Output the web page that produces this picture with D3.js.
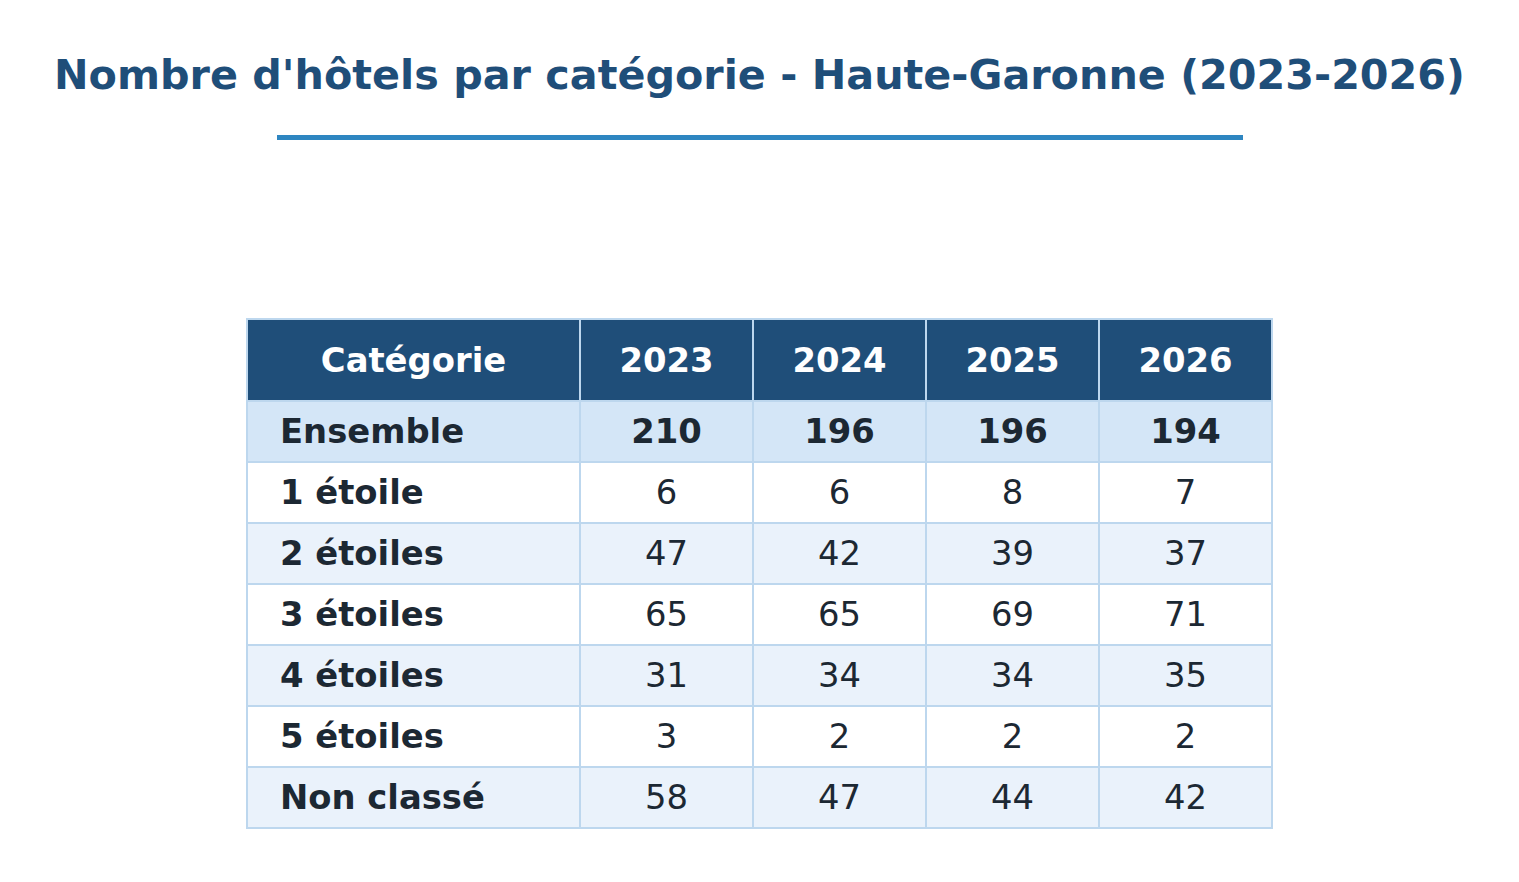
<!DOCTYPE html>
<html>
<head>
<meta charset="utf-8">
<script src="https://cdn.jsdelivr.net/npm/d3@7"></script>
<style>
  body { margin: 0; background: #fff; }
  svg { display: block; font-family: "DejaVu Sans", sans-serif; }
</style>
</head>
<body>
<svg id="table_svg" width="1519" height="882"></svg>
<script>
// Data
const title = "Nombre d'hôtels par catégorie - Haute-Garonne (2023-2026)";
const headerLabel = "Catégorie";
const years = ["2023", "2024", "2025", "2026"];
const categories = ["Ensemble", "1 étoile", "2 étoiles", "3 étoiles", "4 étoiles", "5 étoiles", "Non classé"];
const values2023 = [210, 6, 47, 65, 31, 3, 58];
const values2024 = [196, 6, 42, 65, 34, 2, 47];
const values2025 = [196, 8, 39, 69, 34, 2, 44];
const values2026 = [194, 7, 37, 71, 35, 2, 42];

const seriesByYear = {"2023": values2023, "2024": values2024, "2025": values2025, "2026": values2026};

const svg = d3.select("#table_svg");

// Title
svg.append("text")
    .attr("x", 759.5)
    .attr("y", 89)
    .attr("text-anchor", "middle")
    .attr("font-size", 41.3)
    .attr("font-weight", "bold")
    .attr("fill", "#1f4e79")
    .text(title);

svg.append("rect")
    .attr("x", 277)
    .attr("y", 135)
    .attr("width", 966)
    .attr("height", 5)
    .attr("fill", "#2e86c1");

// Layout
const left = 247, firstColW = 333, colW = 173;
const headerTop = 319, headerH = 82, rowH = 61;
const fontSize = 33.8;

const columns = [headerLabel].concat(years);
const colX = d => d === headerLabel ? left : left + firstColW + years.indexOf(d) * colW;
const colWidth = d => d === headerLabel ? firstColW : colW;

const yScale = d3.scaleBand()
    .domain(categories)
    .range([headerTop + headerH, headerTop + headerH + rowH * categories.length]);

const g = svg.append("g");

// Header
g.selectAll(".head")
    .data(columns)
    .enter()
    .append("rect")
    .attr("x", d => colX(d))
    .attr("y", headerTop)
    .attr("width", d => colWidth(d))
    .attr("height", headerH)
    .attr("fill", "#1f4e79")
    .attr("stroke", "#bdd7ee")
    .attr("stroke-width", 2);

g.selectAll(".headText")
    .data(columns)
    .enter()
    .append("text")
    .attr("x", d => colX(d) + colWidth(d) / 2)
    .attr("y", headerTop + headerH / 2)
    .attr("dy", "0.35em")
    .attr("text-anchor", "middle")
    .attr("font-size", fontSize)
    .attr("font-weight", "bold")
    .attr("fill", "#ffffff")
    .text(d => d);

// Body rows
const rowFill = (c, i) => i === 0 ? "#d4e6f7" : (i % 2 === 0 ? "#eaf2fb" : "#ffffff");

const rows = g.selectAll(".row")
    .data(categories)
    .enter()
    .append("g")
    .attr("class", "row");

rows.each(function(cat, i) {
    const row = d3.select(this);
    const y = yScale(cat);
    columns.forEach(col => {
        row.append("rect")
            .attr("x", colX(col))
            .attr("y", y)
            .attr("width", colWidth(col))
            .attr("height", yScale.bandwidth())
            .attr("fill", rowFill(cat, i))
            .attr("stroke", "#bdd7ee")
            .attr("stroke-width", 2);

        const isLabel = col === headerLabel;
        row.append("text")
            .attr("x", isLabel ? colX(col) + 33 : colX(col) + colWidth(col) / 2)
            .attr("y", y + yScale.bandwidth() / 2)
            .attr("dy", "0.35em")
            .attr("text-anchor", isLabel ? "start" : "middle")
            .attr("font-size", fontSize)
            .attr("font-weight", (isLabel || i === 0) ? "bold" : "normal")
            .attr("fill", "#1c2833")
            .text(isLabel ? cat : seriesByYear[col][i]);
    });
});
</script>
</body>
</html>
